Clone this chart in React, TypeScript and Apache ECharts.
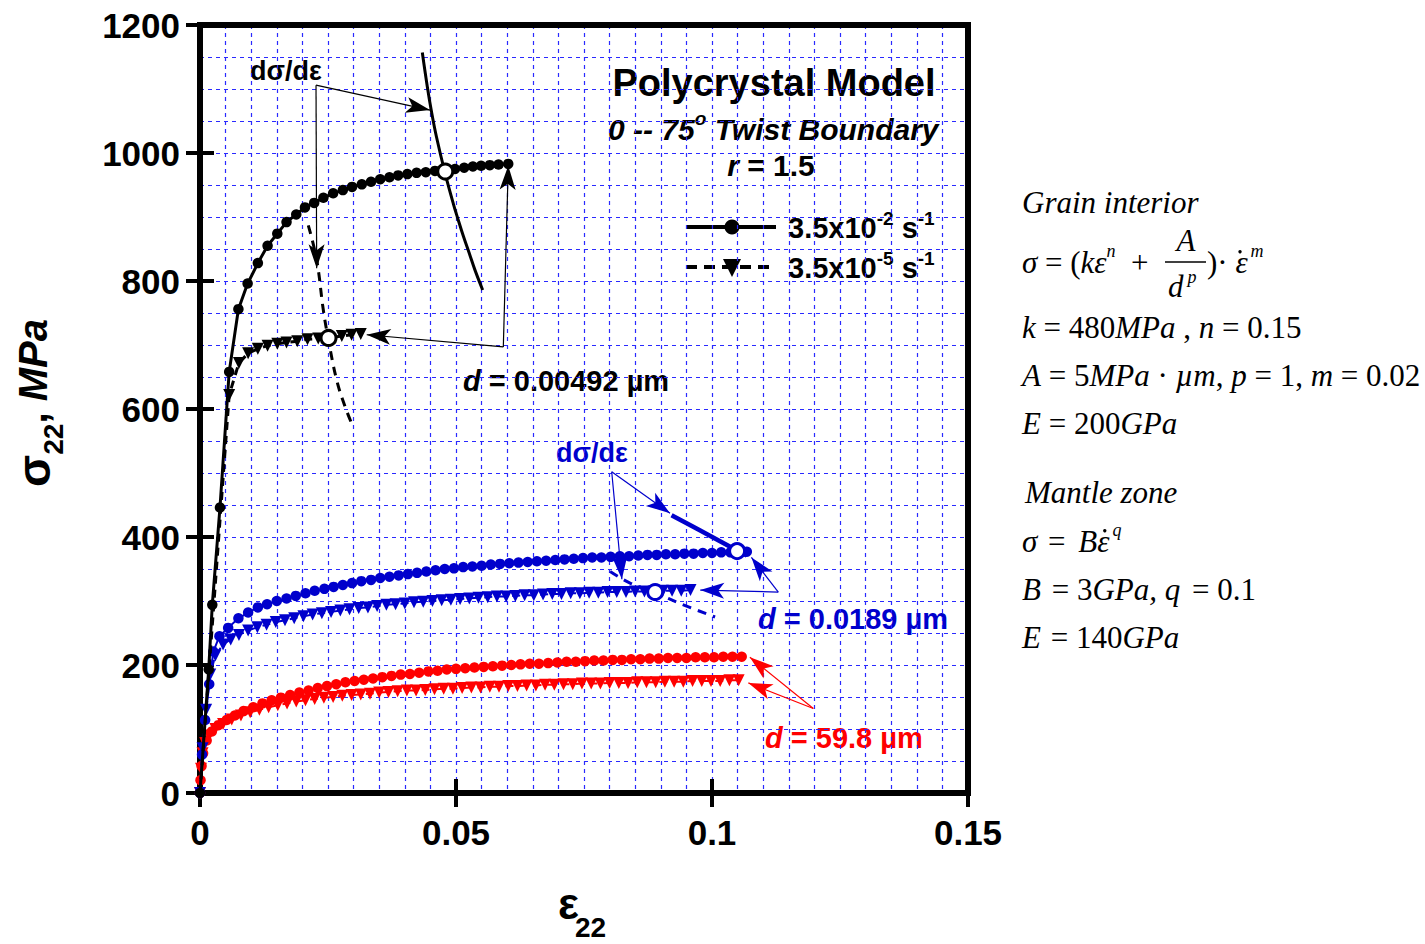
import React, { useEffect, useRef } from "react";
import * as echarts from "echarts";

// ---------- data (strain ε22, stress σ22 in MPa) ----------
const blackFast: number[][] = [[0,0],[0.0017,193],[0.0024,294],[0.0039,446],[0.0057,658],[0.0075,756],[0.0093,796],[0.0113,828],[0.0132,855],[0.0151,874],[0.0169,892],[0.0188,904],[0.0205,915],[0.0223,922],[0.0241,930],[0.026,937],[0.0279,942],[0.0297,947],[0.0316,951],[0.0334,955],[0.0352,959],[0.037,962],[0.0387,965],[0.0405,967],[0.0423,969],[0.0441,970],[0.0459,972],[0.0479,973],[0.0498,975],[0.0516,977],[0.0533,979],[0.0549,980],[0.0566,981],[0.0583,982],[0.0602,983]];
const blackSlow: number[][] = [[0,0],[0.0057,622],[0.0076,672],[0.0094,687],[0.0113,694],[0.0132,699],[0.0151,702],[0.0169,704],[0.019,706],[0.021,709],[0.0231,710],[0.0251,711],[0.0277,714],[0.0296,716],[0.0314,717]];
const blueFast: number[][] = [[0,0],[0.0004,60],[0.001,114],[0.0018,170],[0.0026,221],[0.0038,245],[0.0055,258],[0.0075,273],[0.0094,282],[0.0113,290],[0.0131,295],[0.015,300],[0.0169,304],[0.0187,308],[0.0206,312],[0.0224,316],[0.0243,319],[0.0261,322],[0.0279,325],[0.0297,328],[0.0315,331],[0.0334,333],[0.0352,336],[0.037,338],[0.0388,340],[0.0406,342],[0.0424,344],[0.0442,346],[0.046,348],[0.0478,350],[0.0496,351],[0.0514,353],[0.0532,354],[0.055,355],[0.0568,357],[0.0586,358],[0.0604,359],[0.0622,360],[0.064,361],[0.0658,362],[0.0676,363],[0.0694,364],[0.0712,365],[0.073,366],[0.0748,367],[0.0766,368],[0.0784,368],[0.0802,369],[0.082,370],[0.0838,370],[0.0856,371],[0.0874,372],[0.0892,372],[0.091,373],[0.0928,373],[0.0946,374],[0.0964,374],[0.0982,375],[0.1,375],[0.1018,376],[0.1036,376],[0.1054,377],[0.1068,377]];
const blueSlow: number[][] = [[0,0],[0.0005,70],[0.0012,130],[0.002,185],[0.003,215],[0.0045,232],[0.006,240],[0.0076,247],[0.0094,254],[0.0112,259],[0.013,263],[0.0148,267],[0.0166,270],[0.0184,273],[0.0202,276],[0.022,279],[0.0238,281],[0.0256,283],[0.0274,285],[0.0292,287],[0.031,289],[0.0328,290],[0.0346,292],[0.0364,294],[0.0382,295],[0.04,296],[0.0418,298],[0.0436,299],[0.0454,300],[0.0472,301],[0.049,302],[0.0508,303],[0.0526,304],[0.0544,305],[0.0562,306],[0.058,307],[0.0598,307],[0.0616,308],[0.0634,309],[0.0652,309],[0.067,310],[0.0688,311],[0.0706,311],[0.0724,312],[0.0742,312],[0.076,313],[0.0778,313],[0.0796,314],[0.0814,314],[0.0832,314],[0.085,315],[0.0868,315],[0.0886,315],[0.0904,316],[0.0922,316],[0.094,316],[0.0958,317]];
const redFast: number[][] = [[0,0],[0.0001,20],[0.0003,42],[0.0006,62],[0.0013,82],[0.0023,96],[0.0036,106],[0.0052,114],[0.0068,121],[0.0085,128],[0.0104,134],[0.0122,140],[0.014,145],[0.0158,149],[0.0176,153],[0.0194,157],[0.0212,160],[0.023,164],[0.0248,167],[0.0266,170],[0.0284,173],[0.0302,175],[0.032,177],[0.0338,179],[0.0356,181],[0.0374,183],[0.0392,185],[0.041,186],[0.0428,188],[0.0446,190],[0.0464,191],[0.0482,193],[0.05,194],[0.0518,195],[0.0536,196],[0.0554,197],[0.0572,198],[0.059,199],[0.0608,200],[0.0626,201],[0.0644,202],[0.0662,202],[0.068,203],[0.0698,204],[0.0716,205],[0.0734,205],[0.0752,206],[0.077,207],[0.0788,207],[0.0806,208],[0.0824,208],[0.0842,209],[0.086,209],[0.0878,210],[0.0896,210],[0.0914,211],[0.0932,211],[0.095,211],[0.0968,212],[0.0986,212],[0.1004,212],[0.1022,213],[0.104,213],[0.1058,213]];
const redSlow: number[][] = [[0,0],[0.0002,38],[0.0005,62],[0.001,78],[0.0018,90],[0.003,100],[0.0045,108],[0.0062,115],[0.008,121],[0.0098,126],[0.0116,130],[0.0134,134],[0.0152,137],[0.017,140],[0.0188,143],[0.0206,145],[0.0224,147],[0.0242,149],[0.026,150],[0.0278,152],[0.0296,153],[0.0314,154],[0.0332,155],[0.035,157],[0.0368,158],[0.0386,159],[0.0404,160],[0.0422,160],[0.044,161],[0.0458,162],[0.0476,163],[0.0494,163],[0.0512,164],[0.053,165],[0.0548,165],[0.0566,166],[0.0584,166],[0.0602,167],[0.062,167],[0.0638,168],[0.0656,168],[0.0674,169],[0.0692,169],[0.071,170],[0.0728,170],[0.0746,171],[0.0764,171],[0.0782,171],[0.08,172],[0.0818,172],[0.0836,172],[0.0854,173],[0.0872,173],[0.089,173],[0.0908,174],[0.0926,174],[0.0944,174],[0.0962,175],[0.098,175],[0.0998,175],[0.1016,175],[0.1034,176],[0.1052,176]];

// dσ/dε curves
const blackFastHardening: number[][] = [[0.04342,1157],[0.04439,1104],[0.04516,1067],[0.04619,1025],[0.04785,969],[0.04947,921],[0.05045,895],[0.05148,869],[0.05256,844],[0.05371,817],[0.05521,786]];
const blackSlowHardening: number[][] = [[0.02115,887],[0.02279,833],[0.02408,755],[0.02506,709],[0.0267,645],[0.02832,604],[0.02975,575]];
const blueFastHardening: number[][] = [[0.0921,434],[0.0977,410],[0.1049,379],[0.1068,371]];
const blueSlowHardening: number[][] = [[0.0801,346],[0.084,328],[0.0889,313],[0.0941,295],[0.1006,275]];

// intersection points (open circles)
const blackCrossings: number[][] = [[0.0479,971],[0.0251,711]];
const blueCrossings: number[][] = [[0.1049,378],[0.0889,314]];

// annotation arrows: [from, to]
const blackArrows: number[][][] = [[[0.02266,1106],[0.04492,1067]],[[0.02266,1106],[0.02279,820]],[[0.05924,697],[0.06021,980]],[[0.05924,697],[0.03256,716]]];
const blueArrows: number[][][] = [[[0.08041,502],[0.0918,437]],[[0.08041,502],[0.0824,334]],[[0.11295,314],[0.1077,368]],[[0.11295,314],[0.0977,317]]];
const redArrows: number[][][] = [[[0.11979,132],[0.1074,212]],[[0.11979,132],[0.1071,172]]];

const xTicks = { min: 0, max: 0.15, step: 0.05 };
const yTicks = { min: 0, max: 1200, step: 200 };

const BLUE = "#0000cc";
const RED = "#ff0000";
const SANS = "Liberation Sans";
const SERIF = "Liberation Serif";

type Seg = { t: string; size: number; bold?: boolean; italic?: boolean; dy?: number; dx?: number; dot?: boolean };
let mctx: CanvasRenderingContext2D | null = null;
function measure(s: Seg, family: string): number {
  if (!mctx) mctx = document.createElement("canvas").getContext("2d");
  mctx!.font = `${s.italic ? "italic " : ""}${s.bold ? "bold " : ""}${s.size}px "${family}"`;
  return mctx!.measureText(s.t).width;
}
function runText(x: number, y: number, segs: Seg[], family: string, fill: string, align: "left" | "center" | "right" = "left"): any[] {
  const widths = segs.map((s) => measure(s, family));
  const total = widths.reduce((a, b) => a + b, 0) + segs.reduce((a, s) => a + (s.dx || 0), 0);
  let cx = align === "center" ? x - total / 2 : align === "right" ? x - total : x;
  const els: any[] = [];
  segs.forEach((s, i) => {
    cx += s.dx || 0;
    els.push({
      type: "text",
      x: cx,
      y: y + (s.dy || 0),
      silent: true,
      style: {
        text: s.t,
        fontSize: s.size,
        fontWeight: s.bold ? "bold" : "normal",
        fontStyle: s.italic ? "italic" : "normal",
        fontFamily: family,
        fill,
        textAlign: "left",
        align: "left",
        textVerticalAlign: "middle",
        verticalAlign: "middle",
      },
    });
    if (s.dot) {
      els.push({ type: "circle", silent: true, shape: { cx: cx + widths[i] * 0.62, cy: y + (s.dy || 0) - s.size * 0.33, r: 1.7 }, style: { fill } });
    }
    cx += widths[i];
  });
  return els;
}

function markerSeries(name: string, data: number[][], color: string, dashed: boolean, lw: number, z: number): any {
  return {
    name,
    type: "line",
    data: data.map((p, i) => (dashed && i === 0 && color === "#000" ? { value: p, symbol: "none" } : p)),
    symbol: dashed ? "triangle" : "circle",
    symbolRotate: dashed ? 180 : 0,
    symbolSize: dashed ? 12 : 10.5,
    lineStyle: { color, width: lw, type: dashed ? [8, 6] : "solid" },
    itemStyle: { color, borderWidth: 0 },
    z,
    silent: true,
  };
}

function curveSeries(data: number[][], color: string, dashed: boolean, lw: number, arrows: number[][][] | null): any {
  const s: any = {
    type: "line",
    data,
    symbol: "none",
    smooth: 0.4,
    lineStyle: { color, width: lw, type: dashed ? [9, 7] : "solid" },
    z: 6,
    silent: true,
  };
  if (arrows) {
    s.markLine = {
      silent: true,
      symbol: ["none", "arrow"],
      symbolSize: [12, 24],
      label: { show: false },
      lineStyle: { color, width: 1.2, type: "solid" },
      itemStyle: { color },
      data: arrows.map(([a, b]) => [{ coord: a }, { coord: b }]),
    };
  }
  return s;
}

function buildOption(): any {
  const gridLine = { color: "#2a2aff", width: 1.2, type: [4, 4] };
  const graphics: any[] = [];
  // axis titles
  graphics.push({
    type: "group",
    x: 33,
    y: 403,
    rotation: Math.PI / 2,
    children: runText(0, 0, [
      { t: "σ", size: 47, bold: true },
      { t: "22", size: 28, bold: true, dy: 20 },
      { t: ", ", size: 40, bold: true },
      { t: "MPa", size: 40, bold: true, italic: true },
    ], SANS, "#000", "center"),
  });
  graphics.push(...runText(558, 903, [
    { t: "ε", size: 44, bold: true },
    { t: "22", size: 28, bold: true, dy: 24, dx: -4 },
  ], SANS, "#000"));

  // in-plot texts
  graphics.push(...runText(250, 71, [{ t: "dσ/dε", size: 27, bold: true }], SANS, "#000"));
  graphics.push(...runText(774, 83, [{ t: "Polycrystal Model", size: 38, bold: true }], SANS, "#000", "center"));
  graphics.push(...runText(608, 129, [
    { t: "0 -- 75", size: 30, bold: true, italic: true },
    { t: "o", size: 19, bold: true, italic: true, dy: -11 },
    { t: " Twist Boundary", size: 30, bold: true, italic: true },
  ], SANS, "#000"));
  graphics.push(...runText(771, 165, [
    { t: "r", size: 30, bold: true, italic: true },
    { t: " = 1.5", size: 30, bold: true },
  ], SANS, "#000", "center"));
  // legend
  graphics.push({ type: "line", shape: { x1: 686, y1: 227, x2: 776, y2: 227 }, style: { stroke: "#000", lineWidth: 4 } });
  graphics.push({ type: "circle", shape: { cx: 732, cy: 227, r: 7.5 }, style: { fill: "#000" } });
  graphics.push({ type: "line", shape: { x1: 686, y1: 267, x2: 776, y2: 267 }, style: { stroke: "#000", lineWidth: 4, lineDash: [11, 7] } });
  graphics.push({ type: "polygon", shape: { points: [[723, 259], [741, 259], [732, 277]] }, style: { fill: "#000" } });
  graphics.push(...runText(788, 228, [
    { t: "3.5x10", size: 29, bold: true },
    { t: "-2", size: 19, bold: true, dy: -10 },
    { t: " s", size: 29, bold: true },
    { t: "-1", size: 19, bold: true, dy: -10 },
  ], SANS, "#000"));
  graphics.push(...runText(788, 268, [
    { t: "3.5x10", size: 29, bold: true },
    { t: "-5", size: 19, bold: true, dy: -10 },
    { t: " s", size: 29, bold: true },
    { t: "-1", size: 19, bold: true, dy: -10 },
  ], SANS, "#000"));
  graphics.push(...runText(463, 381, [
    { t: "d", size: 29, bold: true, italic: true },
    { t: " = 0.00492 µm", size: 29, bold: true },
  ], SANS, "#000"));
  graphics.push(...runText(556, 453, [{ t: "dσ/dε", size: 27, bold: true }], SANS, BLUE));
  graphics.push(...runText(758, 619, [
    { t: "d", size: 29, bold: true, italic: true },
    { t: " = 0.0189 µm", size: 29, bold: true },
  ], SANS, BLUE));
  graphics.push(...runText(765, 738, [
    { t: "d", size: 29, bold: true, italic: true },
    { t: " = 59.8 µm", size: 29, bold: true },
  ], SANS, RED));

  // right side model description
  const F = 31;
  const S = 18;
  graphics.push(...runText(1022, 202, [{ t: "Grain interior", size: F, italic: true }], SERIF, "#000"));
  graphics.push(...runText(1022, 262, [
    { t: "σ", size: F, italic: true },
    { t: " = (", size: F },
    { t: "k", size: F, italic: true },
    { t: "ε", size: F, italic: true },
    { t: "n", size: S, italic: true, dy: -11 },
    { t: "  +", size: F },
  ], SERIF, "#000"));
  graphics.push(...runText(1186, 240, [{ t: "A", size: F, italic: true }], SERIF, "#000", "center"));
  graphics.push({ type: "line", shape: { x1: 1165, y1: 262, x2: 1206, y2: 262 }, style: { stroke: "#000", lineWidth: 1.3 } });
  graphics.push(...runText(1168, 286, [
    { t: "d", size: F, italic: true },
    { t: "p", size: S, italic: true, dy: -9, dx: 4 },
  ], SERIF, "#000"));
  graphics.push(...runText(1207, 262, [
    { t: ")", size: F },
    { t: "·", size: F },
    { t: " ε", size: F, italic: true, dot: true },
    { t: "m", size: S, italic: true, dy: -11, dx: 3 },
  ], SERIF, "#000"));
  graphics.push(...runText(1022, 327, [
    { t: "k", size: F, italic: true },
    { t: " = 480", size: F },
    { t: "MPa", size: F, italic: true },
    { t: " , ", size: F },
    { t: "n", size: F, italic: true },
    { t: " = 0.15", size: F },
  ], SERIF, "#000"));
  graphics.push(...runText(1022, 375, [
    { t: "A", size: F, italic: true },
    { t: " = 5", size: F },
    { t: "MPa", size: F, italic: true },
    { t: " · ", size: F },
    { t: "µm", size: F, italic: true },
    { t: ", ", size: F },
    { t: "p", size: F, italic: true },
    { t: " = 1, ", size: F },
    { t: "m", size: F, italic: true },
    { t: " = 0.02", size: F },
  ], SERIF, "#000"));
  graphics.push(...runText(1022, 423, [
    { t: "E", size: F, italic: true },
    { t: " = 200", size: F },
    { t: "GPa", size: F, italic: true },
  ], SERIF, "#000"));
  graphics.push(...runText(1025, 492, [{ t: "Mantle zone", size: F, italic: true }], SERIF, "#000"));
  graphics.push(...runText(1022, 541, [
    { t: "σ", size: F, italic: true },
    { t: " = ", size: F, dx: 3 },
    { t: "B", size: F, italic: true, dx: 5 },
    { t: "ε", size: F, italic: true, dot: true },
    { t: "q", size: S, italic: true, dy: -11, dx: 3 },
  ], SERIF, "#000"));
  graphics.push(...runText(1022, 589, [
    { t: "B", size: F, italic: true },
    { t: " = 3", size: F, dx: 3 },
    { t: "GPa,", size: F, italic: true },
    { t: " q", size: F, italic: true },
    { t: " = 0.1", size: F, dx: 4 },
  ], SERIF, "#000"));
  graphics.push(...runText(1022, 637, [
    { t: "E", size: F, italic: true },
    { t: " = 140", size: F, dx: 2 },
    { t: "GPa", size: F, italic: true },
  ], SERIF, "#000"));

  const axisLabel = { fontSize: 35, fontWeight: "bold", fontFamily: SANS, color: "#000" };
  const tick = { show: true, inside: true, length: 14, lineStyle: { color: "#000", width: 4 } };

  return {
    animation: false,
    backgroundColor: "#fff",
    grid: { left: 200, top: 25, width: 768, height: 768, show: true, borderColor: "#000", borderWidth: 6, backgroundColor: "transparent", z: 3 },
    xAxis: [
      {
        type: "value", min: xTicks.min, max: xTicks.max, interval: xTicks.step, position: "bottom",
        axisLine: { show: false }, axisTick: tick,
        axisLabel: { ...axisLabel, margin: 22, formatter: (v: number) => String(v) },
        splitLine: { show: true, showMinLine: false, showMaxLine: false, lineStyle: gridLine },
        minorTick: { show: false, splitNumber: 10 },
        minorSplitLine: { show: true, lineStyle: gridLine },
      },
      {
        type: "value", min: xTicks.min, max: xTicks.max, interval: xTicks.step, position: "top",
        axisLine: { show: false }, axisTick: tick, axisLabel: { show: false }, splitLine: { show: false },
      },
    ],
    yAxis: [
      {
        type: "value", min: yTicks.min, max: yTicks.max, interval: yTicks.step, position: "left",
        axisLine: { show: false }, axisTick: tick,
        axisLabel: { ...axisLabel, margin: 20, formatter: (v: number) => String(v) },
        splitLine: { show: true, showMinLine: false, showMaxLine: false, lineStyle: gridLine },
        minorTick: { show: false, splitNumber: 4 },
        minorSplitLine: { show: true, lineStyle: gridLine },
      },
      {
        type: "value", min: yTicks.min, max: yTicks.max, interval: yTicks.step, position: "right",
        axisLine: { show: false }, axisTick: tick, axisLabel: { show: false }, splitLine: { show: false },
      },
    ],
    series: [
      markerSeries("red slow", redSlow, RED, true, 2, 4),
      markerSeries("red fast", redFast, RED, false, 2, 4),
      markerSeries("blue slow", blueSlow, BLUE, true, 2, 5),
      markerSeries("blue fast", blueFast, BLUE, false, 2, 5),
      markerSeries("black slow", blackSlow, "#000", true, 3, 6),
      markerSeries("black fast", blackFast, "#000", false, 3, 6),
      curveSeries(blackFastHardening, "#000", false, 3, blackArrows),
      curveSeries(blackSlowHardening, "#000", true, 3, null),
      curveSeries(blueFastHardening, BLUE, false, 4.5, blueArrows),
      curveSeries(blueSlowHardening, BLUE, true, 3, null),
      curveSeries([], RED, false, 1, redArrows),
      {
        type: "scatter", data: blackCrossings, symbol: "circle", symbolSize: 15, z: 10, silent: true,
        itemStyle: { color: "#fff", borderColor: "#000", borderWidth: 3, opacity: 1 },
      },
      {
        type: "scatter", data: blueCrossings, symbol: "circle", symbolSize: 15, z: 10, silent: true,
        itemStyle: { color: "#fff", borderColor: BLUE, borderWidth: 3, opacity: 1 },
      },
    ],
    graphic: graphics,
  };
}

export default function App() {
  const ref = useRef<HTMLDivElement>(null);
  useEffect(() => {
    const chart = echarts.init(ref.current!, null, { renderer: "svg" });
    chart.setOption(buildOption());
    return () => chart.dispose();
  }, []);
  return (
    <div
      ref={ref}
      style={{ position: "fixed", left: 0, top: 0, width: 1425, height: 944, background: "#fff" }}
    />
  );
}
